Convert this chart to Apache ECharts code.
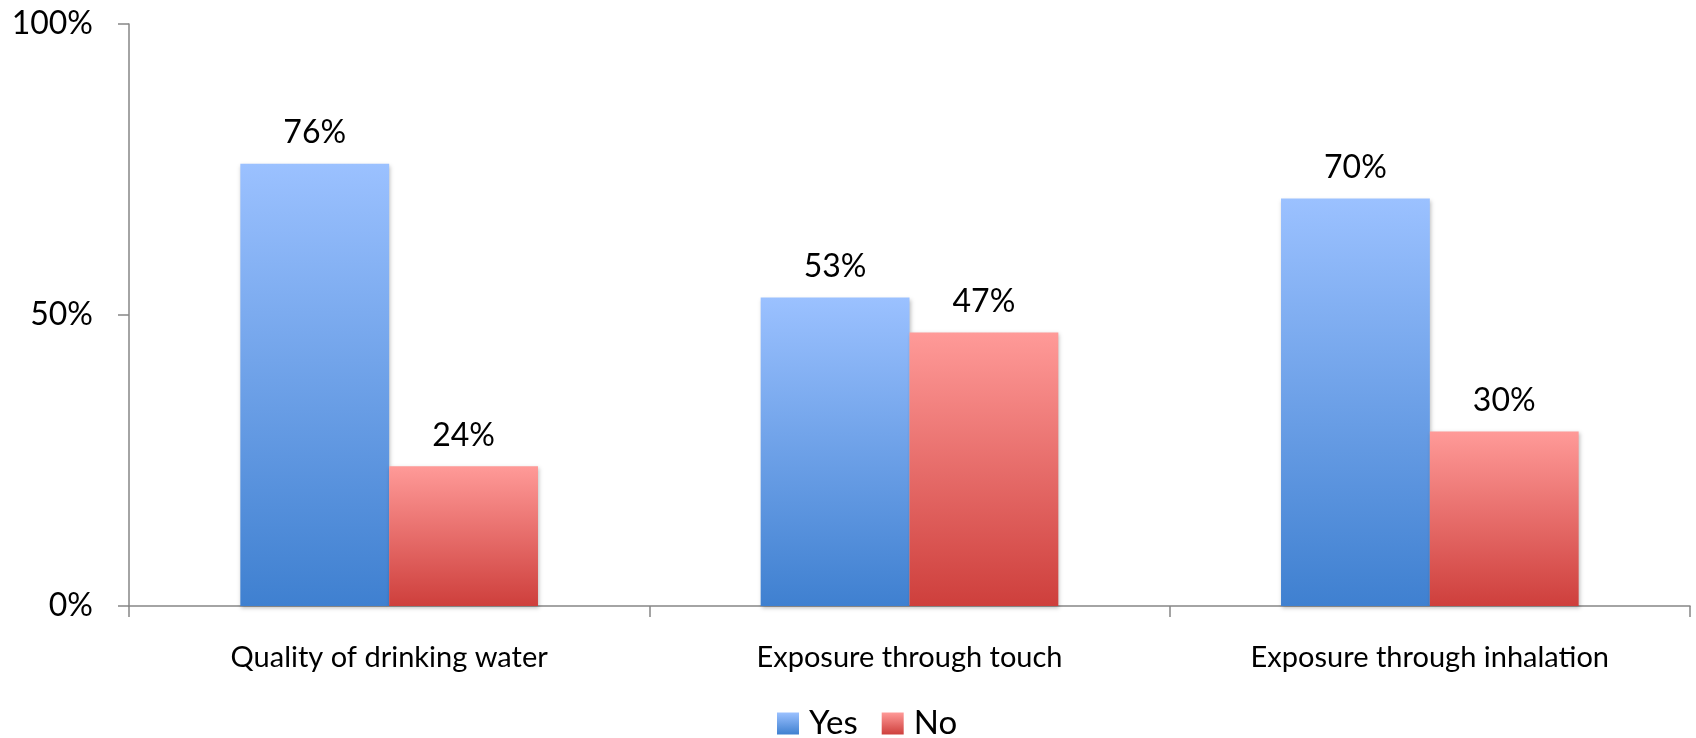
<!DOCTYPE html>
<html>
<head>
<meta charset="utf-8">
<script src="https://cdn.jsdelivr.net/npm/echarts@6/dist/echarts.min.js"></script>
<style>
  html, body { margin: 0; padding: 0; background: #fff; }
  #chart { width: 1696px; height: 738px; }
</style>
</head>
<body>
<div id="chart"></div>
<script>
// data
const categories = ['Quality of drinking water', 'Exposure through touch', 'Exposure through inhalation'];
const yesValues = [76, 53, 70];
const noValues = [24, 47, 30];
const yTicks = [0, 50, 100];

const font = 'Lato';

function grad(top, bottom) {
  return new echarts.graphic.LinearGradient(0, 0, 0, 1, [
    { offset: 0, color: top },
    { offset: 1, color: bottom }
  ]);
}

const chart = echarts.init(document.getElementById('chart'));

const labelStyle = {
  show: true,
  position: 'top',
  distance: 15,
  formatter: '{c}%',
  fontFamily: font,
  fontSize: 32,
  color: '#000'
};

chart.setOption({
  animation: false,
  textStyle: { fontFamily: font },
  grid: { left: 129, right: 6, top: 24, bottom: 132 },
  legend: {
    top: 702,
    left: 772,
    icon: 'rect',
    itemWidth: 22,
    itemHeight: 22,
    itemGap: 24,
    textStyle: { fontSize: 33, color: '#000', fontFamily: font, padding: [0, 0, 0, 5] },
    data: ['Yes', 'No']
  },
  xAxis: {
    type: 'category',
    data: categories,
    axisLine: { lineStyle: { color: '#868686', width: 1.5 } },
    axisTick: { show: true, length: 11, lineStyle: { color: '#868686', width: 1.5 } },
    axisLabel: { fontSize: 29, color: '#000', margin: 37, fontFamily: font }
  },
  yAxis: {
    type: 'value',
    min: yTicks[0],
    max: yTicks[yTicks.length - 1],
    interval: 50,
    splitLine: { show: false },
    axisLine: { show: true, lineStyle: { color: '#868686', width: 1.5 } },
    axisTick: { show: true, length: 11, lineStyle: { color: '#868686', width: 1.5 } },
    axisLabel: { fontSize: 32, color: '#000', margin: 36, formatter: '{value}%', fontFamily: font }
  },
  series: [
    {
      name: 'Yes',
      type: 'bar',
      data: yesValues,
      barGap: '0%',
      barCategoryGap: '42.8%',
      itemStyle: {
        color: grad('#9bc1ff', '#3f80d0'),
        shadowColor: 'rgba(0,0,0,0.25)',
        shadowBlur: 4,
        shadowOffsetX: 1,
        shadowOffsetY: 2
      },
      label: labelStyle
    },
    {
      name: 'No',
      type: 'bar',
      data: noValues,
      itemStyle: {
        color: grad('#ff9a98', '#ce3f3c'),
        shadowColor: 'rgba(0,0,0,0.25)',
        shadowBlur: 4,
        shadowOffsetX: 1,
        shadowOffsetY: 2
      },
      label: labelStyle
    }
  ]
});
</script>
</body>
</html>
